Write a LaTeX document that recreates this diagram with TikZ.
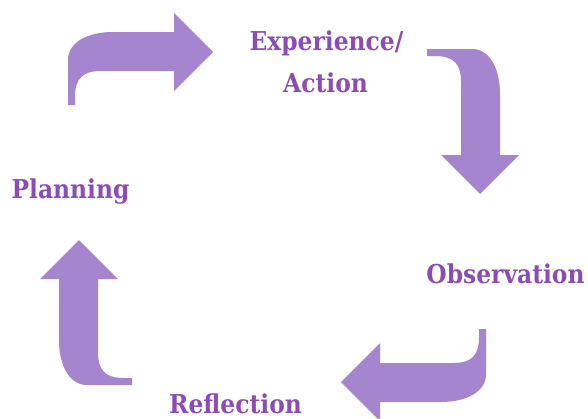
\documentclass[tikz,border=0pt]{standalone}
\usepackage{fontspec}
\setmainfont{DejaVu Serif Condensed}
\usepackage{tikz}

\definecolor{ArrowLilac}{HTML}{A485CE}
\definecolor{LabelPurple}{HTML}{8B4DB5}

\tikzset{
  cyclelabel/.style={text=LabelPurple, font=\fontsize{26}{30}\selectfont\bfseries, anchor=base, inner sep=0pt},
  bentarrow/.pic={
    \fill[ArrowLilac] (0,73) -- (0,28) .. controls (0,10) and (20,0) .. (45,0) -- (106,0) -- (106,-19) -- (145,20) -- (106,59) -- (106,39) -- (33,39) .. controls (15,39) and (7,46) .. (7,65) -- (7,73) -- cycle;
  }
}

\begin{document}
\begin{tikzpicture}[x=1pt, y=-1pt]
\useasboundingbox (0,0) rectangle (588,418);
\pic (toparrow) at (68,32) {bentarrow};
\pic[rotate=-90] (rightarrow) at (500,49) {bentarrow};
\pic[rotate=180] (bottomarrow) at (486,402) {bentarrow};
\pic[rotate=90] (leftarrow) at (59,385) {bentarrow};
\node[cyclelabel] (exper) at (326.5,50) {Experience/};
\node[cyclelabel] (action) at (325.5,92) {Action};
\node[cyclelabel] (obs) at (505.5,283) {Observation};
\node[cyclelabel] (refl) at (235.5,413) {Reflection};
\node[cyclelabel] (plan) at (70.5,198) {Planning};
\end{tikzpicture}
\end{document}
